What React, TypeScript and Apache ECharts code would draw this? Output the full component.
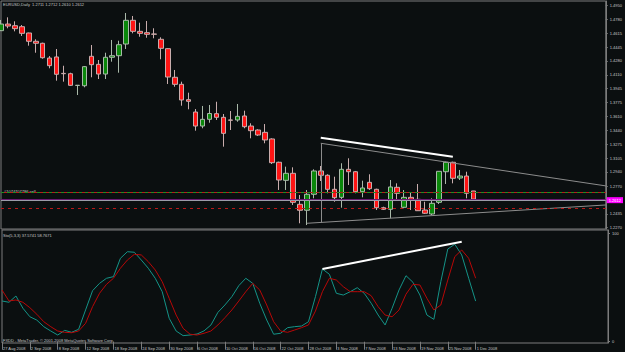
import React, { useEffect, useRef } from "react";
import * as echarts from "echarts";

// ---- data ----
// candle rows: [open, close, low, high]
const bars: number[][] = [
  [1.4644, 1.4724, 1.464, 1.4773],
  [1.4724, 1.47, 1.4673, 1.4805],
  [1.4704, 1.4668, 1.4636, 1.4757],
  [1.4692, 1.4612, 1.458, 1.4712],
  [1.4616, 1.4516, 1.4463, 1.462],
  [1.4516, 1.4492, 1.4378, 1.454],
  [1.4492, 1.4318, 1.4306, 1.4499],
  [1.4314, 1.4222, 1.419, 1.4338],
  [1.4327, 1.4118, 1.4041, 1.4423],
  [1.4129, 1.4125, 1.4029, 1.4221],
  [1.4125, 1.3985, 1.3977, 1.4137],
  [1.3983, 1.3986, 1.3868, 1.3989],
  [1.398, 1.421, 1.3961, 1.4218],
  [1.4335, 1.4234, 1.4082, 1.4471],
  [1.4238, 1.4121, 1.4061, 1.429],
  [1.4121, 1.4323, 1.4061, 1.4378],
  [1.4323, 1.4342, 1.427, 1.4532],
  [1.4342, 1.4475, 1.4137, 1.4523],
  [1.4483, 1.4769, 1.4423, 1.4857],
  [1.4769, 1.4636, 1.4612, 1.4821],
  [1.4636, 1.4612, 1.4571, 1.474],
  [1.462, 1.46, 1.4559, 1.4761],
  [1.4604, 1.4601, 1.4552, 1.4673],
  [1.454, 1.4431, 1.4299, 1.4564],
  [1.4427, 1.4085, 1.4001, 1.4431],
  [1.4082, 1.3997, 1.3968, 1.417],
  [1.3997, 1.3808, 1.3739, 1.4029],
  [1.3812, 1.3792, 1.3696, 1.3896],
  [1.3663, 1.3494, 1.3438, 1.3699],
  [1.3494, 1.3575, 1.3467, 1.3736],
  [1.3575, 1.3645, 1.3534, 1.3748],
  [1.3643, 1.3599, 1.3567, 1.3787],
  [1.3599, 1.3406, 1.3245, 1.3639],
  [1.3567, 1.3564, 1.3446, 1.3675],
  [1.3567, 1.3611, 1.3546, 1.376],
  [1.3615, 1.3486, 1.3467, 1.3679],
  [1.3494, 1.3438, 1.3346, 1.3527],
  [1.3446, 1.3386, 1.3374, 1.3455],
  [1.3418, 1.3326, 1.3286, 1.3518],
  [1.3338, 1.3052, 1.3036, 1.3346],
  [1.3057, 1.2843, 1.2723, 1.3064],
  [1.2839, 1.2924, 1.2723, 1.3004],
  [1.2924, 1.2574, 1.2542, 1.2996],
  [1.255, 1.2478, 1.2321, 1.2662],
  [1.2478, 1.2671, 1.23, 1.2722],
  [1.2671, 1.2952, 1.2622, 1.2972],
  [1.2952, 1.29, 1.2831, 1.3012],
  [1.29, 1.2731, 1.2683, 1.2912],
  [1.2731, 1.263, 1.2581, 1.2883],
  [1.2634, 1.2972, 1.2509, 1.3045],
  [1.2972, 1.2943, 1.2783, 1.3105],
  [1.2943, 1.2702, 1.2683, 1.2952],
  [1.2702, 1.2747, 1.2634, 1.2835],
  [1.2815, 1.2738, 1.2723, 1.2912],
  [1.2731, 1.2509, 1.2481, 1.2738],
  [1.2509, 1.249, 1.2481, 1.2521],
  [1.249, 1.2759, 1.2381, 1.2843],
  [1.2755, 1.2683, 1.2602, 1.2803],
  [1.2514, 1.2634, 1.2502, 1.2722],
  [1.2634, 1.261, 1.2481, 1.269],
  [1.261, 1.2473, 1.247, 1.2795],
  [1.2481, 1.2442, 1.2433, 1.2581],
  [1.2433, 1.2562, 1.2421, 1.2622],
  [1.2574, 1.2948, 1.2554, 1.295],
  [1.2943, 1.3057, 1.2795, 1.3064],
  [1.3057, 1.2864, 1.2803, 1.3064],
  [1.2867, 1.2891, 1.2843, 1.2964],
  [1.2891, 1.2683, 1.2622, 1.2943],
  [1.2711, 1.2612, 1.261, 1.2712],
];

const stochMain: number[] = [
  37.7, 36.5, 42.3, 31, 23.1, 20, 13.9, 9.9, 6.2, 10.5, 8.7, 11.5, 29.4, 47.2, 54, 58.7, 60.2, 77.2,
  83.3, 82.8, 75.6, 68, 58.7, 46.3, 21.7, 9.9, 5.6, 6.2, 7.1, 10, 15.5, 27.2, 34, 41.7, 51.9, 58.7,
  54, 35.6, 20.1, 6.9, 7.8, 13, 13.9, 14.5, 18.5, 41.7, 67.3, 62.4, 44.8, 43.2, 46.3, 50, 44.8, 35.6,
  24.7, 15.5, 30.9, 47.9, 61.1, 55, 43.2, 24.7, 20.7, 55.6, 85.8, 90.2, 80.3, 58.7, 37.6,
];

const stochSignal: number[] = [
  47.9, 37.7, 38.6, 36.5, 31.5, 25.4, 18.5, 13.9, 9.9, 8.7, 8.3, 9.9, 17, 32.4, 44.8, 53.1, 58.7, 68,
  75.6, 80.9, 80.3, 74.1, 66.4, 55.6, 40.2, 24.7, 12.4, 6.9, 6.2, 7.8, 9.9, 15.5, 22.2, 29.4, 37.7,
  46.3, 54, 47.9, 34, 18.5, 9.9, 8.7, 10.8, 13, 15.5, 28.4, 46.3, 58.7, 57.1, 50.9, 46.3, 46.3, 46.3,
  42.6, 32.4, 24.7, 23.1, 29.4, 44, 53.1, 52.5, 40.2, 29.4, 34, 57.1, 78.7, 84.9, 77.2, 58.8,
];

const dateLabels: string[] = [
  "27 Aug 2008", "2 Sep 2008", "8 Sep 2008", "12 Sep 2008", "18 Sep 2008", "24 Sep 2008",
  "30 Sep 2008", "6 Oct 2008", "10 Oct 2008", "16 Oct 2008", "22 Oct 2008", "28 Oct 2008",
  "3 Nov 2008", "7 Nov 2008", "13 Nov 2008", "19 Nov 2008", "25 Nov 2008", "1 Dec 2008",
];

const priceTickLabels: string[] = [
  "1.4950", "1.4780", "1.4615", "1.4445", "1.4280", "1.4110", "1.3945", "1.3775", "1.3610",
  "1.3440", "1.3275", "1.3105", "1.2940", "1.2770", "1.2435", "1.2270",
];
const stochTickLabels: string[] = ["0", "100"];

// drawn objects (bar index, value)
const priceTrend = [[46, 1.3353], [65, 1.3124]];
const stochTrend = [[46, 67.3], [66, 92.6]];
const channelTop = [[46, 1.3286], [87, 1.2772]];
const channelLeft = [[46, 1.3286], [46, 1.233]];
const channelBottom = [[44, 1.2321], [87, 1.2542]];
const orderPrice = 1.2652;
const purpleLevel = 1.2627;
const bidPrice = 1.2612;
const stopLevel = 1.2502;

const TOTAL_SLOTS = 88;
const LABEL_STEP = 4;

const title = "EURUSD,Daily  1.2711 1.2712 1.2610 1.2612";
const stochTitle = "Sto(5,3,3) 37.5741 58.7671";
const orderText = "#1074707786 sell";
const footer = "FXDD - MetaTrader, \u00a9 2001-2008 MetaQuotes Software Corp.";

const FONT = '"Liberation Sans Narrow", "Liberation Sans", Arial, sans-serif';
const BG = "#0b0f10";
const FRAME = "#7c7c7c";
const TXT = "#c8c8c8";

export default function App() {
  const ref = useRef<HTMLDivElement>(null);
  useEffect(() => {
    if (!ref.current) return;
    const chart = echarts.init(ref.current, undefined, { renderer: "svg" });
    const cats = Array.from({ length: TOTAL_SLOTS }, (_, i) => String(i));
    const showDate = (idx: number) => idx % LABEL_STEP === 0 && idx / LABEL_STEP < dateLabels.length;
    const seg = (pts: number[][], color: string, width: number) => [
      { coord: pts[0], lineStyle: { color, width, type: "solid" } },
      { coord: pts[1] },
    ];
    const option: any = {
      backgroundColor: BG,
      animation: false,
      textStyle: { fontFamily: FONT },
      grid: [
        { left: 1, right: 17, top: 1, height: 228, show: true, borderColor: FRAME, borderWidth: 1, backgroundColor: "transparent" },
        { left: 1, right: 17, top: 230, height: 113, show: true, borderColor: FRAME, borderWidth: 1, backgroundColor: "transparent" },
      ],
      xAxis: [
        {
          type: "category", gridIndex: 0, data: cats, boundaryGap: false,
          axisLine: { show: false }, axisTick: { show: false }, axisLabel: { show: false }, splitLine: { show: false },
        },
        {
          type: "category", gridIndex: 1, data: cats, boundaryGap: false,
          axisLine: { show: false },
          axisTick: { show: true, interval: (i: number) => showDate(i), length: 8, lineStyle: { color: FRAME } },
          axisLabel: {
            interval: (i: number) => showDate(i),
            formatter: (v: string) => dateLabels[Number(v) / LABEL_STEP] || "",
            align: "left", fontSize: 4, color: TXT, margin: 3, padding: [0, 0, 0, 1], fontFamily: FONT,
          },
          splitLine: { show: false },
        },
      ],
      yAxis: [
        {
          type: "value", gridIndex: 0, position: "right", min: 1.22522, max: 1.50019, scale: true,
          splitLine: { show: false },
          axisLine: { show: true, lineStyle: { color: FRAME } },
          axisTick: { show: true, length: 2, customValues: priceTickLabels.map(Number), lineStyle: { color: FRAME } },
          axisLabel: {
            customValues: priceTickLabels.map(Number),
            formatter: (v: number) => priceTickLabels.find((l) => Math.abs(Number(l) - v) < 1e-7) || "",
            fontSize: 4, color: TXT, margin: 4, fontFamily: FONT,
          },
        },
        {
          type: "value", gridIndex: 1, position: "right", min: -1.2, max: 103.4,
          splitLine: { show: false },
          axisLine: { show: true, lineStyle: { color: FRAME } },
          axisTick: { show: true, length: 2, customValues: stochTickLabels.map(Number), lineStyle: { color: FRAME } },
          axisLabel: {
            customValues: stochTickLabels.map(Number),
            formatter: (v: number) => stochTickLabels.find((l) => Number(l) === v) || "",
            fontSize: 4, color: TXT, margin: 4, fontFamily: FONT,
          },
        },
      ],
      series: [
        {
          type: "candlestick", xAxisIndex: 0, yAxisIndex: 0, data: bars, barWidth: 5, clip: true,
          itemStyle: { color: "#0a870a", color0: "#ff1414", borderColor: "#a9b9a9", borderColor0: "#c9adad", borderWidth: 1 },
          markLine: {
            silent: true, symbol: "none", animation: false,
            label: { show: false },
            data: [
              seg(channelTop, "#8c8c8c", 1),
              seg(channelLeft, "#8c8c8c", 1),
              seg(channelBottom, "#8c8c8c", 1),
              seg(priceTrend, "#ffffff", 2),
              { yAxis: purpleLevel, lineStyle: { color: "#6a1a72", width: 2, type: "solid" } },
              { yAxis: orderPrice, lineStyle: { color: "#1f8f1f", width: 1, type: [3, 3] } },
              { yAxis: orderPrice, lineStyle: { color: "#b81c1c", width: 1, type: [3, 3], dashOffset: 3 } },
              {
                yAxis: bidPrice, lineStyle: { color: "#9c9ca8", width: 1, type: "solid" },
                label: {
                  show: true, position: "end", distance: 1, formatter: bidPrice.toFixed(4),
                  backgroundColor: "#ff00ff", color: "#ffffff", fontSize: 4, padding: [1, 2], fontFamily: FONT,
                },
              },
              { yAxis: stopLevel, lineStyle: { color: "#b81818", width: 1, type: [3, 4] } },
            ],
          },
        },
        {
          type: "line", xAxisIndex: 1, yAxisIndex: 1, data: stochMain, symbol: "none",
          lineStyle: { color: "#159488", width: 1 },
          markLine: {
            silent: true, symbol: "none", animation: false, label: { show: false },
            data: [seg(stochTrend, "#ffffff", 2)],
          },
        },
        {
          type: "line", xAxisIndex: 1, yAxisIndex: 1, data: stochSignal, symbol: "none",
          lineStyle: { color: "#b80808", width: 1 },
        },
      ],
      graphic: [
        { type: "text", left: 3, top: 2.5, style: { text: title, fontSize: 4, fontFamily: FONT, fill: TXT } },
        { type: "text", left: 4, top: 189.5, style: { text: orderText, fontSize: 4, fontFamily: FONT, fill: TXT } },
        { type: "text", left: 3, top: 233, style: { text: stochTitle, fontSize: 4, fontFamily: FONT, fill: TXT } },
        { type: "text", left: 3, top: 338.5, style: { text: footer, fontSize: 4, fontFamily: FONT, fill: TXT } },
      ],
    };
    chart.setOption(option);
    return () => chart.dispose();
  }, []);
  return (
    <div
      ref={ref}
      style={{ position: "fixed", left: 0, top: 0, width: 625, height: 352, background: BG }}
    />
  );
}
